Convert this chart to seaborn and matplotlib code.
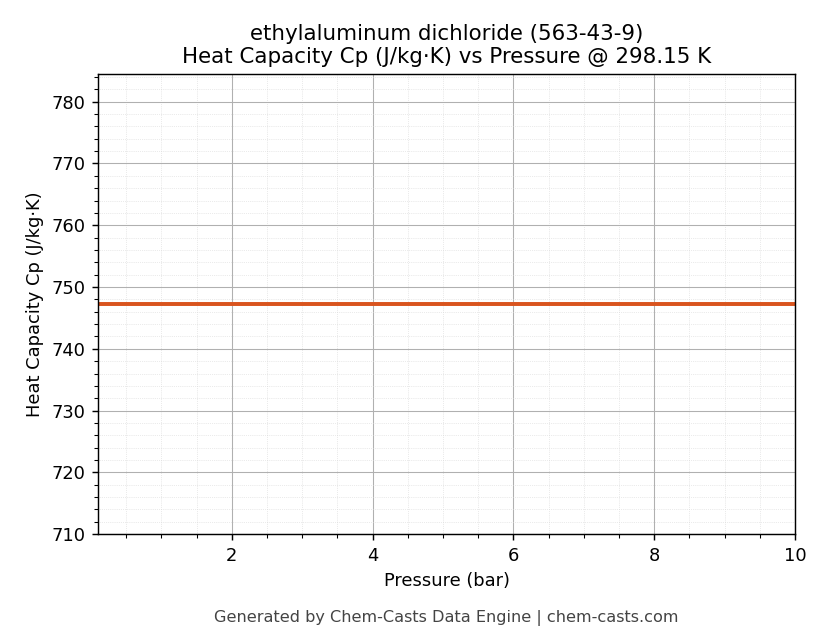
import numpy as np
import pandas as pd
import matplotlib.pyplot as plt
import seaborn as sns
from matplotlib.ticker import AutoMinorLocator

pressure = [0.1, 1.0, 2.0, 3.0, 4.0, 5.0, 6.0, 7.0, 8.0, 9.0, 10.0]
cp = [747.2, 747.2, 747.2, 747.2, 747.2, 747.2, 747.2, 747.2, 747.2, 747.2, 747.2]
df = pd.DataFrame({'Pressure (bar)': pressure, 'Cp': cp})

sns.set_style('ticks')
plt.rcParams['font.family'] = ['DejaVu Sans']
plt.rcParams['font.size'] = 10
for k in ['text.color', 'axes.labelcolor', 'xtick.color', 'ytick.color']:
    plt.rcParams[k] = 'black'

fig = plt.figure(figsize=(6.4, 5.0))
ax = fig.add_axes([98/823, 1-535/644, (795-98)/823, (535-74)/644])
sns.lineplot(data=df, x='Pressure (bar)', y='Cp', ax=ax, color='#d9541e', linewidth=2.2)

ax.set_xlim(0.1, 10)
ax.set_ylim(710, 784.5)
ax.set_xticks([2, 4, 6, 8, 10])
ax.xaxis.set_minor_locator(AutoMinorLocator(4))
ax.yaxis.set_minor_locator(AutoMinorLocator(5))
ax.tick_params(labelsize=10)
ax.grid(which='major', color='#b0b0b0', linewidth=0.6)
ax.grid(which='minor', color='#d8d8d8', linewidth=0.4, linestyle=':')
for s in ax.spines.values():
    s.set_visible(True)
    s.set_color('black')

ax.set_xlabel('Pressure (bar)', fontsize=10)
ax.set_ylabel('Heat Capacity Cp (J/kg·K)', fontsize=10)
ax.set_title('ethylaluminum dichloride (563-43-9)\nHeat Capacity Cp (J/kg·K) vs Pressure @ 298.15 K', fontsize=12)
fig.text(0.542, 0.032, 'Generated by Chem-Casts Data Engine | chem-casts.com', ha='center', fontsize=9, color='#444444')

fig.savefig('out.png', dpi=128.6)
